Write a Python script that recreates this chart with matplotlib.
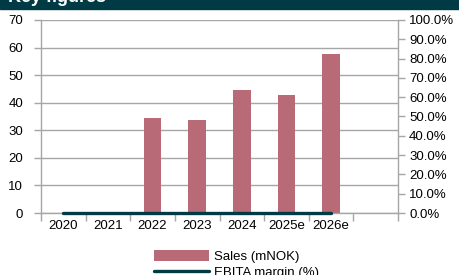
import numpy as np
import matplotlib.pyplot as plt
from matplotlib.ticker import FuncFormatter, MultipleLocator
from matplotlib.patches import Rectangle

plt.rcParams['font.family'] = ['Liberation Sans', 'DejaVu Sans']

# data
years = ['2020', '2021', '2022', '2023', '2024', '2025e', '2026e', '']
sales = [0, 0, 34.5, 33.6, 44.6, 42.7, 57.8, np.nan]
ebita_margin = [0, 0, 0, 0, 0, 0, 0, np.nan]

bar_col = '#B86B76'
line_col = '#003A45'
grid_col = '#A6A6A6'
fs = 9.5

fig = plt.figure(figsize=(4.59, 2.75), dpi=100)

# dark title banner, text cut at the top edge
fig.patches.append(Rectangle((0, 1 - 9 / 275), 1, 9 / 275, transform=fig.transFigure,
                             color=line_col, zorder=0))
fig.text(8 / 459, 1 - 1.5 / 275, 'Key figures', color='white', fontsize=13, fontweight='bold',
         va='baseline', ha='left')

ax = fig.add_axes([41 / 459, 1 - 213 / 275, (398 - 41) / 459, (213 - 20) / 275])
x = np.arange(len(years))

ax.bar(x, sales, width=0.4, color=bar_col, label='Sales (mNOK)', zorder=2)
ax.set_ylim(0, 70)
ax.set_xlim(-0.5, len(years) - 0.5)
ax.yaxis.set_major_locator(MultipleLocator(10))
ax.grid(axis='y', color=grid_col, linewidth=1.0, zorder=0)
ax.set_axisbelow(True)

ax.set_xticks(x)
ax.set_xticklabels(years)
ax.set_xticks(np.arange(-0.5, len(years)), minor=True)
ax.tick_params(axis='x', which='major', length=0, pad=5, labelsize=fs)
ax.tick_params(axis='x', which='minor', length=6, color=grid_col, width=1)
ax.tick_params(axis='y', length=5, color=grid_col, width=1, labelsize=fs, pad=8)

for s in ['left', 'right', 'bottom']:
    ax.spines[s].set_color(grid_col)
    ax.spines[s].set_linewidth(1)
ax.spines['top'].set_visible(False)

ax2 = ax.twinx()
ax2.plot(x, ebita_margin, color=line_col, linewidth=2.4, label='EBITA margin (%)',
         solid_capstyle='round', zorder=3, clip_on=False)
ax2.set_ylim(0, 1)
ax2.yaxis.set_major_locator(MultipleLocator(0.1))
ax2.yaxis.set_major_formatter(FuncFormatter(lambda v, p: f'{v * 100:.1f}%'))
ax2.tick_params(axis='y', length=5, color=grid_col, width=1, labelsize=fs, pad=3)
for s in ['left', 'right', 'bottom', 'top']:
    ax2.spines[s].set_visible(False)

h1, l1 = ax.get_legend_handles_labels()
h2, l2 = ax2.get_legend_handles_labels()
fig.legend(h1 + h2, l1 + l2, loc='upper center', bbox_to_anchor=(0.515, 1 - 238 / 275),
           frameon=False, fontsize=fs, handlelength=4.2, handleheight=0.9,
           handletextpad=0.4, labelspacing=0.2)

fig.savefig('out.png', dpi=100)
